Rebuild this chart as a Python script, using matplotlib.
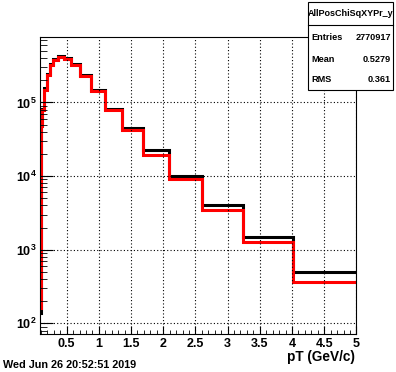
import matplotlib
matplotlib.use("Agg")
import matplotlib.pyplot as plt
from matplotlib.patches import Rectangle
from matplotlib.lines import Line2D
from matplotlib.ticker import MultipleLocator, LogLocator, NullFormatter

plt.rcParams['font.family'] = ['Liberation Sans', 'DejaVu Sans']
plt.rcParams['font.weight'] = 'bold'
plt.rcParams['mathtext.fontset'] = 'custom'
plt.rcParams['mathtext.rm'] = 'Liberation Sans:bold'
plt.rcParams['mathtext.it'] = 'Liberation Sans:bold'
plt.rcParams['mathtext.bf'] = 'Liberation Sans:bold'

# bin edges of pT (GeV/c), log spaced
edges = [0.08, 0.10, 0.124, 0.154, 0.191, 0.238, 0.295, 0.367, 0.456, 0.567,
         0.705, 0.877, 1.09, 1.354, 1.684, 2.093, 2.602, 3.234, 4.02, 5.0]
black_counts = [140, 49000, 81000, 155000, 243000, 332000, 388000, 430000, 405000, 328000,
                234000, 146000, 82600, 45100, 22500, 9970, 4030, 1470, 501]
red_counts = [161, 47500, 78300, 149600, 234000, 320000, 374000, 414000, 394000, 320000,
              228000, 141000, 80000, 42800, 19600, 9000, 3450, 1280, 367]

x_ticks = [0.5, 1, 1.5, 2, 2.5, 3, 3.5, 4, 4.5, 5]
x_ticklabels = ["0.5", "1", "1.5", "2", "2.5", "3", "3.5", "4", "4.5", "5"]

hist_name = "AllPosChiSqXYPr_y"
stat_names = ["Entries", "Mean", "RMS"]
stat_values = ["2770917", "0.5279", "0.361"]
date_text = "Wed Jun 26 20:52:51 2019"

fig = plt.figure(figsize=(3.96, 3.72), dpi=100)
ax = fig.add_axes([0.1, 0.102, 0.8, 0.798])

ax.stairs(black_counts, edges, baseline=None, color='black', linewidth=2.2)
ax.stairs(red_counts, edges, baseline=None, color='red', linewidth=2.2)

ax.set_yscale('log')
ax.set_xlim(0.08, 5.0)
ax.set_ylim(71.6, 7.69e5)

ax.set_xticks(x_ticks)
ax.set_xticklabels(x_ticklabels)
ax.xaxis.set_minor_locator(MultipleLocator(0.1))
ax.yaxis.set_major_locator(LogLocator(base=10, numticks=10))
ax.yaxis.set_minor_locator(LogLocator(base=10, subs=range(2, 10), numticks=20))
ax.yaxis.set_minor_formatter(NullFormatter())

ax.tick_params(which='both', direction='in', top=False, right=False, color='black')
ax.tick_params(axis='x', which='major', length=6, labelsize=9, pad=2.8)
ax.tick_params(axis='x', which='minor', length=3)
ax.tick_params(axis='y', which='major', length=9, labelsize=9, pad=2)
ax.tick_params(axis='y', which='minor', length=5)

ax.grid(True, which='major', color='black', linestyle=(0, (1, 2)), linewidth=0.8)
for s in ax.spines.values():
    s.set_linewidth(0.8)

fig.text(355 / 396, 1 - 357 / 372, "pT (GeV/c)", ha='right', va='center', fontsize=9.8, fontweight='bold')
fig.text(3 / 396, 1 - 365 / 372, date_text, ha='left', va='center', fontsize=7.8, fontweight='bold')

# stats box
bx0, bx1 = 308 / 396, 393 / 396
by0, by1 = 1 - 90 / 372, 1 - 2 / 372
fig.patches.append(Rectangle((bx0, by0), bx1 - bx0, by1 - by0, transform=fig.transFigure,
                             facecolor='white', edgecolor='black', linewidth=0.8, zorder=5))
sep_y = 1 - 25 / 372
fig.lines.append(Line2D([bx0, bx1], [sep_y, sep_y], transform=fig.transFigure,
                        color='black', linewidth=0.8, zorder=6))
fig.text((bx0 + bx1) / 2, 1 - 14 / 372, hist_name, ha='center', va='center', fontsize=6.5,
         fontweight='bold', zorder=7)
row_y = [38, 59, 80]
for name, val, yy in zip(stat_names, stat_values, row_y):
    fig.text(311 / 396, 1 - yy / 372, name, ha='left', va='center', fontsize=6.6, fontweight='bold', zorder=7)
    fig.text(391 / 396, 1 - yy / 372, val, ha='right', va='center', fontsize=6.6, fontweight='bold', zorder=7)

fig.savefig("out.png", dpi=100)
